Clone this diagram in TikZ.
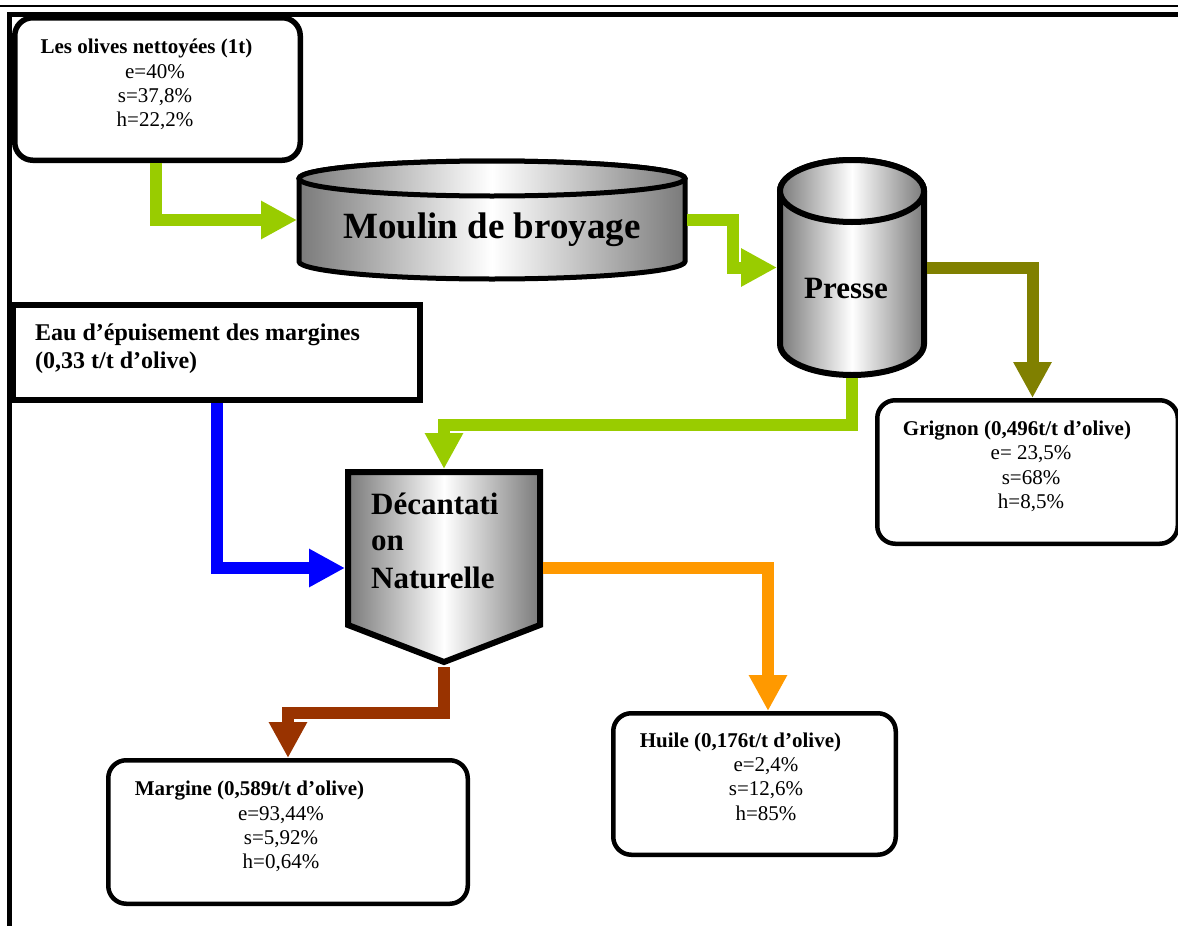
\documentclass[tikz,border=0pt]{standalone}
\usepackage{fontspec}
\setmainfont{Liberation Serif}
\usetikzlibrary{arrows.meta}
\definecolor{cgreen}{HTML}{99CC00}
\definecolor{colive}{HTML}{808000}
\definecolor{cblue}{HTML}{0000FF}
\definecolor{corange}{HTML}{FF9900}
\definecolor{cbrown}{HTML}{993300}
\definecolor{shadegray}{HTML}{7A7A7A}
\begin{document}
\begin{tikzpicture}[x=1pt,y=-1pt,
  flow/.style={line width=12pt, line join=miter, -{Triangle[width=36pt,length=36pt]}},
  databox/.style={draw, line width=4.5pt, rounded corners=18pt, fill=white, inner sep=0pt},
  ghost/.style={inner sep=0pt, outer sep=0pt},
  title/.style={font=\fontsize{21}{24}\selectfont\bfseries, inner sep=0pt, anchor=base},
  val/.style={font=\fontsize{21}{24}\selectfont, inner sep=0pt, anchor=base},
  eautxt/.style={font=\fontsize{24}{28}\selectfont\bfseries, inner sep=0pt, anchor=base west},
  big/.style={font=\fontsize{31}{37}\selectfont\bfseries, inner sep=0pt, anchor=base west},
  metal/.style={left color=shadegray, right color=shadegray, middle color=white},
]
\useasboundingbox (0,0) rectangle (1178,926);

% page frame
\draw[line width=2pt] (0,5.5) -- (1178,5.5);
\draw[line width=4.5pt] (7,14.5) -- (1178,14.5);
\draw[line width=5pt] (9.75,12.25) -- (9.75,926);

% input box
\node[databox, line width=5.5pt, minimum width=285.5pt, minimum height=142.5pt] (olives) at (157.5,89) {};
\node[title] (olivesT) at (146.5,53) {Les olives nettoyées (1t)};
\node[val] (olivesE) at (155,78) {e=40\%};
\node[val] (olivesS) at (155,102) {s=37,8\%};
\node[val] (olivesH) at (155,126) {h=22,2\%};

% moulin cylinder
\node[ghost, minimum width=390pt, minimum height=124pt] (moulin) at (492,220) {};
\path[metal, draw, line width=5pt] (299,178.5) -- (299,261.5)
  arc[start angle=180, end angle=0, x radius=193, y radius=17.5] -- (685,178.5)
  arc[start angle=0, end angle=-180, x radius=193, y radius=17.5] -- cycle;
\path[metal, draw, line width=5pt] (492,178.5) ellipse[x radius=193, y radius=17.5];
\node[font=\fontsize{37}{40}\selectfont\bfseries, inner sep=0pt, anchor=base] (moulinT) at (492,238) {Moulin de broyage};

% presse cylinder
\node[ghost, minimum width=150pt, minimum height=221pt] (presse) at (852,267.5) {};
\path[metal, draw, line width=6pt] (780,191) -- (780,344)
  arc[start angle=180, end angle=0, x radius=72, y radius=31] -- (924,191)
  arc[start angle=0, end angle=-180, x radius=72, y radius=31] -- cycle;
\path[metal, draw, line width=6pt] (852,191) ellipse[x radius=72, y radius=31];
\node[font=\fontsize{31}{37}\selectfont\bfseries, inner sep=0pt, anchor=base] (presseT) at (846,298) {Presse};

% eau box
\node[draw, line width=6pt, fill=white, minimum width=407pt, minimum height=95pt, inner sep=0pt] (eau) at (216.5,352.5) {};
\node[eautxt] (eauT1) at (35,340) {Eau d’épuisement des margines};
\node[eautxt] (eauT2) at (35,368) {(0,33 t/t d’olive)};

% grignon box
\node[databox, minimum width=300.5pt, minimum height=143.5pt] (grignon) at (1027.5,472) {};
\node[title] (grignonT) at (1017,435) {Grignon (0,496t/t d’olive)};
\node[val] (grignonE) at (1031,459) {e= 23,5\%};
\node[val] (grignonS) at (1031,484) {s=68\%};
\node[val] (grignonH) at (1031,508) {h=8,5\%};

% decantation
\node[ghost, minimum width=198pt, minimum height=198pt] (decant) at (444,568) {};
\path[metal, draw, line width=6pt, line join=miter] (348,472) -- (540,472) -- (540,625) -- (444,662) -- (348,625) -- cycle;
\node[big] (decT1) at (371,514) {Décantati};
\node[big] (decT2) at (371,550) {on};
\node[big] (decT3) at (371,588) {Naturelle};

% margine box
\node[databox, minimum width=359.5pt, minimum height=143.5pt] (margine) at (288,832) {};
\node[title] (margineT) at (249.5,795) {Margine (0,589t/t d’olive)};
\node[val] (margineE) at (281,820) {e=93,44\%};
\node[val] (margineS) at (281,844) {s=5,92\%};
\node[val] (margineH) at (281,868) {h=0,64\%};

% huile box
\node[databox, minimum width=282.5pt, minimum height=141.5pt] (huile) at (754.5,784) {};
\node[title] (huileT) at (740.5,747) {Huile (0,176t/t d’olive)};
\node[val] (huileE) at (766,771.5) {e=2,4\%};
\node[val] (huileS) at (766,795.5) {s=12,6\%};
\node[val] (huileH) at (766,820) {h=85\%};

% flows
\draw[flow, cgreen] ([xshift=-1.5pt]olives.south) |- (moulin.west);
\draw[flow, cgreen] (moulin.east) -- ++(45.5,0) |- (presse.west);
\draw[flow, colive] (presse.east) -| ([xshift=5pt]grignon.north);
\draw[flow, cgreen] (presse.south) -- ++(0,47) -| (decant.north);
\draw[flow, cblue] (eau.south) |- (decant.west);
\draw[flow, corange] (decant.east) -| ([xshift=13.5pt]huile.north);
\draw[flow, cbrown] (decant.south) -- ++(0,45.5) -| (margine.north);
\end{tikzpicture}
\end{document}
